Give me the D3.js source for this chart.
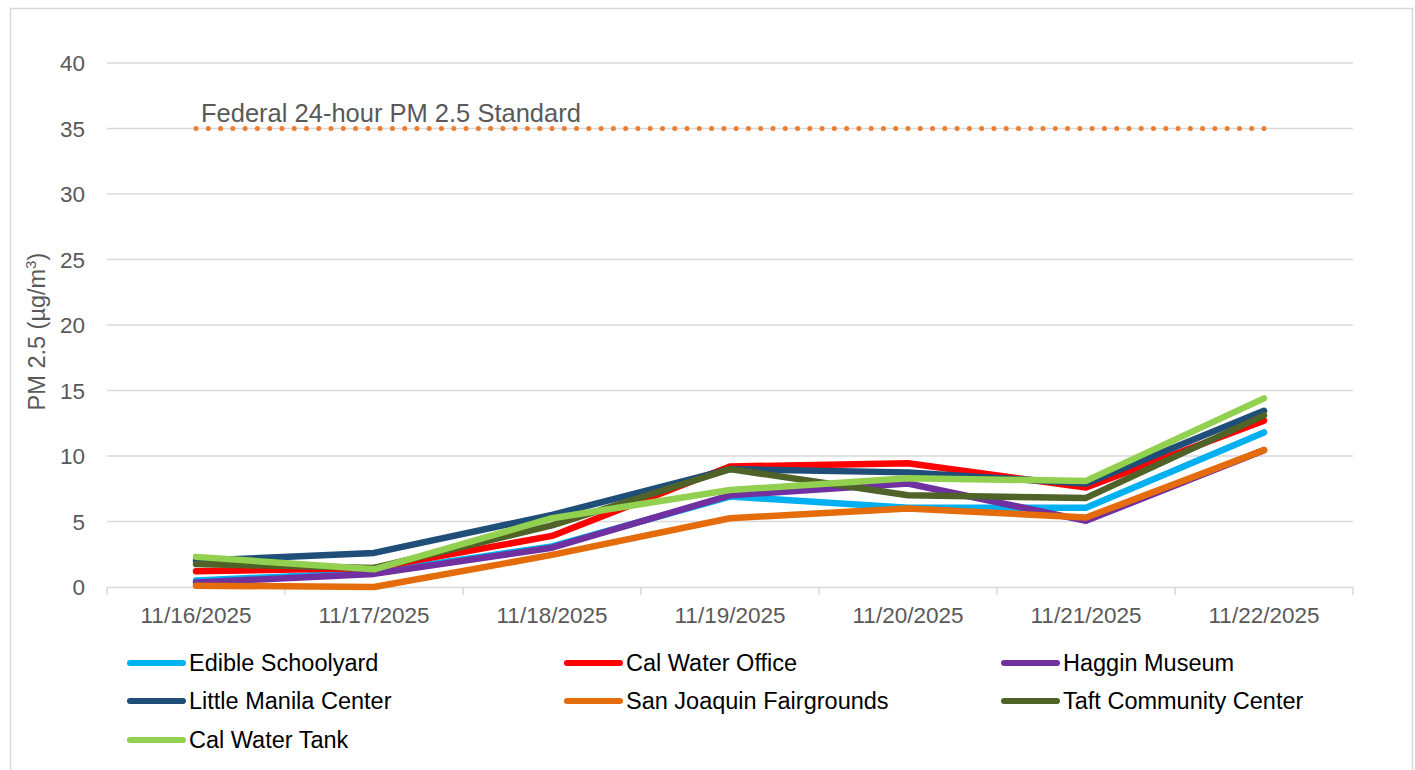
<!DOCTYPE html>
<html>
<head>
    <title>PM 2.5 by Site</title>
    <script src="https://d3js.org/d3.v7.min.js"></script>
    <style>
        body { margin: 0; background: #fff; }
        text { font-family: "Liberation Sans", Arial, sans-serif; }
        .tick-label { fill: #595959; font-size: 22.5px; }
        .legend-label { fill: #000; font-size: 23.5px; }
    </style>
</head>
<body>
    <script>
        // Data
        const dates = ["11/16/2025", "11/17/2025", "11/18/2025", "11/19/2025", "11/20/2025", "11/21/2025", "11/22/2025"];
        const sites = ["Edible Schoolyard", "Cal Water Office", "Haggin Museum", "Little Manila Center",
                       "San Joaquin Fairgrounds", "Taft Community Center", "Cal Water Tank"];
        const edible      = [0.5, 1.1, 3.1, 6.9, 6.05, 6.05, 11.8];
        const calOffice   = [1.2, 1.45, 3.9, 9.2, 9.45, 7.6, 12.7];
        const haggin      = [0.35, 1.0, 3.0, 7.0, 7.9, 5.05, 10.45];
        const littleManila= [2.0, 2.6, 5.5, 9.0, 8.75, 7.9, 13.45];
        const fairgrounds = [0.1, 0.0, 2.45, 5.25, 6.0, 5.3, 10.45];
        const taft        = [1.75, 1.45, 4.7, 9.0, 7.0, 6.8, 13.1];
        const calTank     = [2.3, 1.35, 5.25, 7.4, 8.3, 8.1, 14.4];
        const seriesValues = [edible, calOffice, haggin, littleManila, fairgrounds, taft, calTank];
        const colors = ["#00B0F0", "#FF0000", "#7030A0", "#1F4E79", "#E46C0A", "#4F6228", "#92D050"];
        const yTicks = [0, 5, 10, 15, 20, 25, 30, 35, 40];
        const standardValue = 35;
        const standardLabel = "Federal 24-hour PM 2.5 Standard";

        const W = 1415, H = 770;
        const svg = d3.select("body").append("svg")
            .attr("width", W)
            .attr("height", H);

        // chart frame
        svg.append("rect")
            .attr("x", 10.5).attr("y", 8.5)
            .attr("width", 1402).attr("height", H)
            .attr("fill", "none")
            .attr("stroke", "#D9D9D9")
            .attr("stroke-width", 1.5);

        const x = d3.scaleBand().domain(dates).range([107, 1353]);
        const y = d3.scaleLinear().domain([0, 40]).range([587, 63]);
        const cx = d => x(d) + x.bandwidth() / 2;

        // gridlines
        svg.append("g")
            .selectAll("line")
            .data(yTicks.filter(t => t > 0))
            .join("line")
            .attr("x1", 107).attr("x2", 1353)
            .attr("y1", d => y(d)).attr("y2", d => y(d))
            .attr("stroke", "#D9D9D9")
            .attr("stroke-width", 1.5);

        // y axis labels
        svg.append("g")
            .selectAll("text")
            .data(yTicks)
            .join("text")
            .attr("class", "tick-label")
            .attr("x", 85)
            .attr("y", d => y(d))
            .attr("dy", "0.36em")
            .attr("text-anchor", "end")
            .text(d => d);

        // x axis
        const xAxis = svg.append("g")
            .attr("transform", `translate(0,${y(0)})`)
            .call(d3.axisBottom(x).tickSize(0).tickPadding(20));
        xAxis.select(".domain").attr("stroke", "#D9D9D9").attr("stroke-width", 1.5);
        xAxis.selectAll("text")
            .attr("class", "tick-label")
            .attr("font-family", null)
            .attr("font-size", null);
        xAxis.selectAll(".tick-mark")
            .data(dates.concat(["end"]))
            .join("line")
            .attr("class", "tick-mark")
            .attr("x1", (d, i) => i < dates.length ? x(d) : x.range()[1])
            .attr("x2", (d, i) => i < dates.length ? x(d) : x.range()[1])
            .attr("y1", 0).attr("y2", 8)
            .attr("stroke", "#D9D9D9")
            .attr("stroke-width", 1.5);

        // y axis title
        const yTitle = svg.append("text")
            .attr("transform", `translate(45,${y(19.5)}) rotate(-90)`)
            .attr("text-anchor", "middle")
            .attr("fill", "#595959")
            .attr("font-size", 23.5);
        yTitle.append("tspan").text("PM 2.5 (µg/m");
        yTitle.append("tspan").attr("font-size", 15).attr("dy", -9).text("3");
        yTitle.append("tspan").attr("dy", 9).text(")");

        // federal standard line
        const sx0 = cx(dates[0]), sx1 = cx(dates[dates.length - 1]);
        const gap = (sx1 - sx0) / Math.round((sx1 - sx0) / 12.3);
        svg.append("line")
            .attr("x1", sx0).attr("x2", sx1)
            .attr("y1", y(standardValue)).attr("y2", y(standardValue))
            .attr("stroke", "#ED7D31")
            .attr("stroke-width", 5)
            .attr("stroke-linecap", "round")
            .attr("stroke-dasharray", `0 ${gap}`);
        svg.append("text")
            .attr("x", 201)
            .attr("y", y(standardValue) - 7)
            .attr("fill", "#595959")
            .attr("font-size", 25.5)
            .text(standardLabel);

        // series lines
        const line = d3.line()
            .x((d, i) => cx(dates[i]))
            .y(d => y(d));

        svg.append("g")
            .selectAll("path")
            .data(seriesValues)
            .join("path")
            .attr("d", d => line(d))
            .attr("fill", "none")
            .attr("stroke", (d, i) => colors[i])
            .attr("stroke-width", 6.5)
            .attr("stroke-linecap", "round")
            .attr("stroke-linejoin", "round");

        // legend
        const legendCols = [130, 567, 1004];
        const legendRows = [663, 701, 740];
        const legend = svg.append("g")
            .selectAll("g")
            .data(sites)
            .join("g")
            .attr("transform", (d, i) => `translate(${legendCols[i % 3]},${legendRows[Math.floor(i / 3)]})`);

        legend.append("line")
            .attr("x1", 0).attr("x2", 53)
            .attr("stroke", (d, i) => colors[i])
            .attr("stroke-width", 6)
            .attr("stroke-linecap", "round");

        legend.append("text")
            .attr("class", "legend-label")
            .attr("x", 59)
            .attr("dy", "0.36em")
            .text(d => d);
    </script>
</body>
</html>
